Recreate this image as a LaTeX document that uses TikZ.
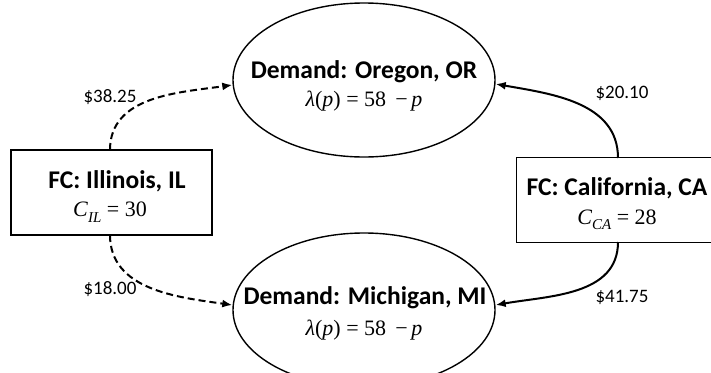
\documentclass[tikz,border=0pt]{standalone}
\usepackage{fontspec}
\setmainfont{Carlito}
\newfontfamily\mathlike{Liberation Serif}
\usetikzlibrary{shapes.geometric,arrows.meta}
\newcommand{\lampform}{\textit{λ}(\textit{p}) = 58\ \,−\,\textit{p}}
\begin{document}
\begin{tikzpicture}[x=1pt,y=-1pt,
  frame/.style={draw=black,line width=1.4pt,fill=white,inner sep=0pt},
  fcbox/.style={frame,rectangle,minimum width=201pt,minimum height=85pt},
  demand/.style={frame,ellipse,minimum width=262pt,minimum height=154pt},
  title/.style={font=\bfseries\fontsize{25.5}{30}\selectfont,inner sep=0pt},
  formula/.style={font=\mathlike\fontsize{22}{26}\selectfont,inner sep=0pt},
  price/.style={font=\fontsize{19}{23}\selectfont,inner sep=0pt},
  tip/.style={-{Latex[length=10pt,width=8pt]}},
  dashlink/.style={tip,dash pattern=on 7pt off 4pt,line width=2pt},
  solidlink/.style={tip,line width=2pt}]
\useasboundingbox (0,0) rectangle (711,372);
\begin{scope}
\clip (0,0) rectangle (711,372);
% Demand ellipses
\node[demand] (or) at (364,80) {};
\node[title] (ort) at (364,72) {Demand: Oregon, OR};
\node[formula] (orf) at (364,101) {\lampform};
\node[demand] (mi) at (364,310) {};
\node[title] (mit) at (365,298) {Demand: Michigan, MI};
\node[formula] (mif) at (364,330) {\lampform};
% FC boxes
\node[fcbox] (il) at (111.5,192.5) {};
\node[title] (ilt) at (117,181) {FC: Illinois, IL};
\node[formula] (ilf) at (110,212) {\textit{C}\raisebox{-0.25em}{\fontsize{15}{18}\selectfont\textit{IL}} = 30};
\node[fcbox] (ca) at (617,200) {};
\node[title] (cat) at (617,188) {FC: California, CA};
\node[formula] (caf) at (617,220) {\textit{C}\raisebox{-0.25em}{\fontsize{15}{18}\selectfont\textit{CA}} = 28};
% connectors
\coordinate (ilN) at (110,150);
\coordinate (ilS) at (110,235);
\coordinate (caN) at (618,158);
\coordinate (caS) at (618,242);
\draw[dashlink] (ilN) to[out=90,in=188] (or.west |- 0,85);
\draw[dashlink] (ilS) to[out=-90,in=172] (mi.west |- 0,305);
\draw[solidlink] (caN) to[out=90,in=-10] (or.east |- 0,84);
\draw[solidlink] (caS) to[out=-90,in=10] (mi.east |- 0,305);
% prices
\node[price] (p1) at (110,97) {\$38.25};
\node[price] (p2) at (622,93) {\$20.10};
\node[price] (p3) at (110,289) {\$18.00};
\node[price] (p4) at (622,297) {\$41.75};
\end{scope}
\end{tikzpicture}
\end{document}
